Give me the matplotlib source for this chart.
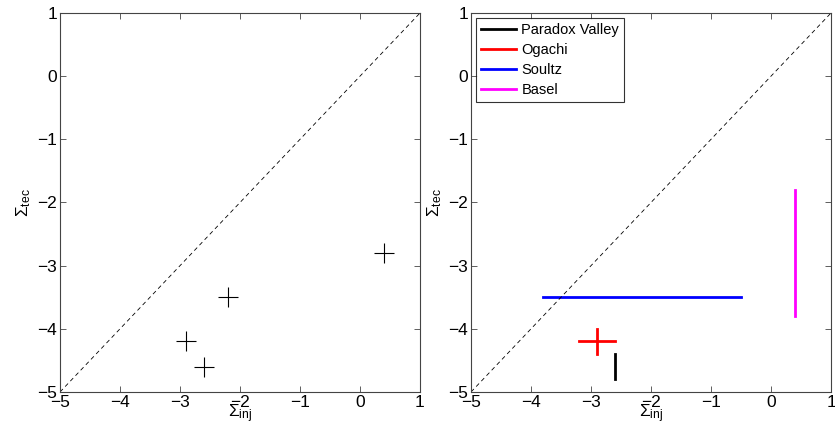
import matplotlib
matplotlib.use('Agg')
import matplotlib.pyplot as plt
import numpy as np

plt.rcParams['font.family'] = ['Liberation Sans', 'DejaVu Sans']
plt.rcParams['mathtext.fontset'] = 'custom'
plt.rcParams['mathtext.rm'] = 'Liberation Sans'
plt.rcParams['mathtext.it'] = 'Liberation Sans:italic'

# left panel: single estimates
sigma_inj = [-2.9, -2.6, -2.2, 0.4]
sigma_tec = [-4.2, -4.6, -3.5, -2.8]

# right panel: ranges per site
sites = ['Paradox Valley', 'Ogachi', 'Soultz', 'Basel']
colors = ['black', 'red', 'blue', 'magenta']
inj_lo = [-2.6, -3.2, -3.8, 0.4]
inj_hi = [-2.6, -2.6, -0.5, 0.4]
tec_lo = [-4.8, -4.4, -3.5, -3.8]
tec_hi = [-4.4, -4.0, -3.5, -1.8]
ogachi_center = (-2.9, -4.2)

lims = [-5, 1]
ticks = np.arange(-5, 2)

fig = plt.figure(figsize=(8.35, 4.34), dpi=100)
ax1 = fig.add_axes([60 / 835, 42 / 434, 360 / 835, 379 / 434])
ax2 = fig.add_axes([471 / 835, 42 / 434, 360 / 835, 379 / 434])


def style(ax):
    ax.plot(lims, lims, '--', color='black', linewidth=0.6, dashes=(5, 4))
    ax.set_xlim(lims)
    ax.set_ylim(lims)
    ax.set_xticks(ticks)
    ax.set_yticks(ticks)
    ax.set_xticklabels([str(t).replace('-', '\u2212') for t in ticks])
    ax.set_yticklabels([str(t).replace('-', '\u2212') for t in ticks])
    ax.tick_params(direction='in', length=4, width=0.6, top=True, right=True,
                   labelsize=12.5, pad=2, color='#444444')
    for s in ax.spines.values():
        s.set_linewidth(0.8)
        s.set_color('#444444')
    ax.set_xlabel(r'$\mathrm{\Sigma_{inj}}$', fontsize=12.5, labelpad=-5)
    ax.set_ylabel(r'$\mathrm{\Sigma_{tec}}$', fontsize=12.5, labelpad=3)


ax1.plot(sigma_inj, sigma_tec, '+', color='black', markersize=14, markeredgewidth=0.8)
style(ax1)

for i in range(len(sites)):
    if sites[i] == 'Ogachi':
        ax2.plot([inj_lo[i], inj_hi[i]], [ogachi_center[1]] * 2, color=colors[i], linewidth=2, label=sites[i])
        ax2.plot([ogachi_center[0]] * 2, [tec_lo[i], tec_hi[i]], color=colors[i], linewidth=2)
    else:
        ax2.plot([inj_lo[i], inj_hi[i]], [tec_lo[i], tec_hi[i]], color=colors[i], linewidth=2, label=sites[i])
style(ax2)

leg = ax2.legend(loc='upper left', fontsize=10.5, handlelength=2.4, borderaxespad=0.35,
                 labelspacing=0.4, handletextpad=0.35, borderpad=0.35, fancybox=False)
leg.get_frame().set_edgecolor('black')
leg.get_frame().set_linewidth(0.8)

fig.savefig('out.png', dpi=100)
